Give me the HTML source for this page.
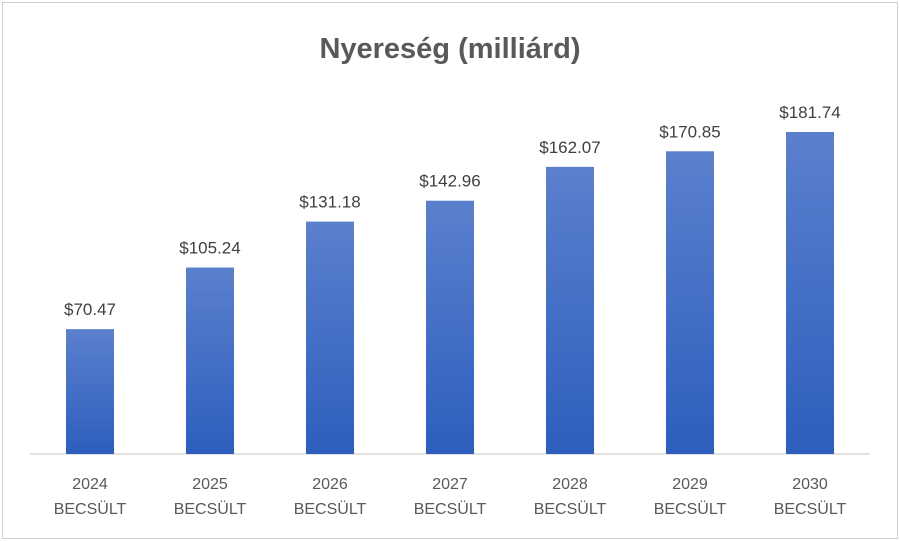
<!DOCTYPE html>
<html><head><meta charset="utf-8"><style>
body{margin:0;background:#fff;}
svg{display:block;font-family:"Liberation Sans",sans-serif;}
</style></head><body>
<svg width="900" height="541">
<defs><linearGradient id="g" x1="0" y1="0" x2="0" y2="1"><stop offset="0" stop-color="#5b80cd"/><stop offset="1" stop-color="#2d5ebe"/></linearGradient></defs>
<rect x="2.5" y="2.5" width="895" height="536" fill="#fff" stroke="#d0d0d0"/>
<text x="450" y="58" text-anchor="middle" font-size="29" font-weight="bold" fill="#595959">Nyereség (milliárd)</text>
<line x1="30" y1="454" x2="870" y2="454" stroke="#d9d9d9" stroke-width="1.5"/>
<g id="bars"></g>
</svg>
<script>
const years=["2024","2025","2026","2027","2028","2029","2030"];
const values=[70.47,105.24,131.18,142.96,162.07,170.85,181.74];
const labels=["$70.47","$105.24","$131.18","$142.96","$162.07","$170.85","$181.74"];
const NS="http://www.w3.org/2000/svg";
const g=document.getElementById("bars");
const base=454,scale=322/181.74;
const xc=i=>90+i*120;
const y=v=>base-v*scale;
years.forEach((yr,i)=>{
  const r=document.createElementNS(NS,"rect");
  
  
  r.setAttribute("x",xc(i)-24);r.setAttribute("width",48);
  r.setAttribute("y",y(values[i]));r.setAttribute("height",base-y(values[i]));
  r.setAttribute("fill","url(#g)");g.appendChild(r);
  const t=document.createElementNS(NS,"text");
  
  
  t.setAttribute("x",xc(i));t.setAttribute("y",y(values[i])-14);
  t.setAttribute("text-anchor","middle");t.setAttribute("font-size","17");t.setAttribute("fill","#404040");
  t.textContent=labels[i];g.appendChild(t);
  const a=document.createElementNS(NS,"text");
  
  
  a.setAttribute("x",xc(i));a.setAttribute("y",489);
  a.setAttribute("text-anchor","middle");a.setAttribute("font-size","16");a.setAttribute("fill","#595959");
  a.textContent=yr;g.appendChild(a);
  const b=document.createElementNS(NS,"text");
  
  
  b.setAttribute("x",xc(i));b.setAttribute("y",514);
  b.setAttribute("text-anchor","middle");b.setAttribute("font-size","16");b.setAttribute("fill","#595959");
  b.textContent="BECSÜLT";g.appendChild(b);
});
</script>
</body></html>
